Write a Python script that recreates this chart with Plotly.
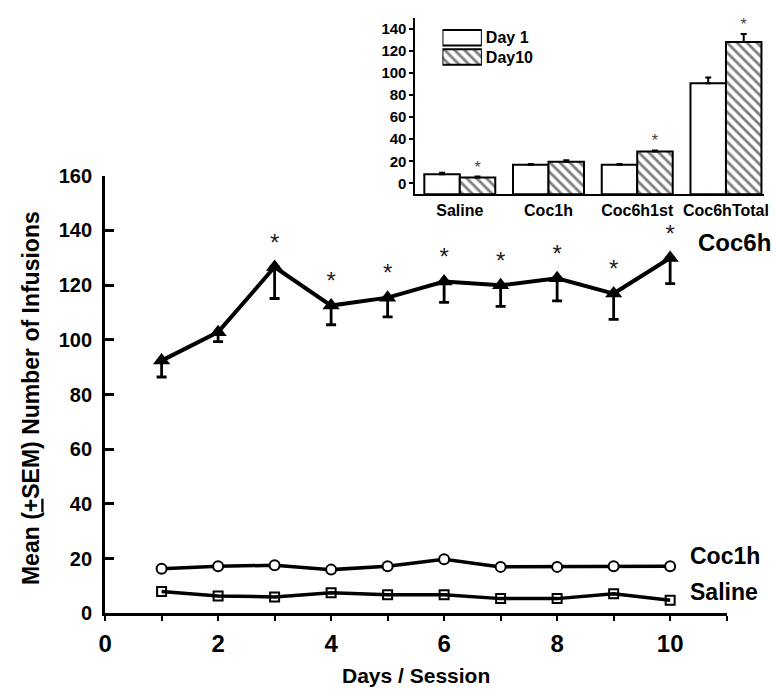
import plotly.graph_objects as go

# ---------------- data ----------------
days = [1, 2, 3, 4, 5, 6, 7, 8, 9, 10]
coc6h = [92.4, 102.8, 126.6, 112.5, 115.4, 121.3, 119.9, 122.5, 116.9, 129.9]
coc6h_sem = [6.0, 3.5, 11.5, 7.0, 7.0, 7.6, 7.7, 8.3, 9.4, 9.4]
coc6h_sig = ["", "", "*", "*", "*", "*", "*", "*", "*", "*"]
coc1h = [16.3, 17.2, 17.6, 16.0, 17.2, 19.8, 17.0, 17.0, 17.2, 17.2]
saline = [8.0, 6.4, 6.0, 7.5, 6.8, 6.8, 5.4, 5.4, 7.2, 4.8]

x_ticks = [0, 1, 2, 3, 4, 5, 6, 7, 8, 9, 10, 11]
x_ticktext = ["0", "", "2", "", "4", "", "6", "", "8", "", "10", ""]
y_ticks = [0, 20, 40, 60, 80, 100, 120, 140, 160]

groups = ["Saline", "Coc1h", "Coc6h1st", "Coc6hTotal"]
group_pos = [0, 1, 2, 3]
day1 = [8.3, 16.8, 16.8, 90.8]
day1_sem = [1.2, 0.8, 0.8, 5.3]
day10 = [5.3, 19.5, 28.9, 128.2]
day10_sem = [0.8, 1.5, 1.0, 7.4]
day10_sig = ["*", "", "*", "*"]
inset_ticks = [0, 20, 40, 60, 80, 100, 120, 140]
INSET_MIN = -10
legend_names = ["Day 1", "Day10"]

FONT = "Arial, Liberation Sans, sans-serif"
NARROW = "Liberation Sans Narrow, Arial Narrow, Liberation Sans, sans-serif"
W, H = 776, 698

fig = go.Figure()

# ---------------- main chart ----------------
fig.add_trace(go.Scatter(
    x=days, y=saline, mode="lines+markers",
    line=dict(color="black", width=3.5),
    marker=dict(symbol="square-open", size=9, color="black", line=dict(width=2)),
    xaxis="x", yaxis="y", showlegend=False))
fig.add_trace(go.Scatter(
    x=days, y=coc1h, mode="lines+markers",
    line=dict(color="black", width=3.5),
    marker=dict(symbol="circle", size=10, color="white", line=dict(width=2, color="black")),
    xaxis="x", yaxis="y", showlegend=False))
fig.add_trace(go.Scatter(
    x=days, y=coc6h, mode="lines+markers+text",
    text=coc6h_sig, textposition="top center",
    textfont=dict(family=FONT, size=24, color="#222"),
    line=dict(color="black", width=4),
    marker=dict(symbol="triangle-up", size=15, color="black"),
    error_y=dict(type="data", symmetric=False, array=[0] * len(days),
                 arrayminus=coc6h_sem, color="black", thickness=2.8, width=5),
    xaxis="x", yaxis="y", showlegend=False))

# ---------------- inset bar chart ----------------
fig.add_trace(go.Bar(
    x=group_pos, y=[v - INSET_MIN for v in day1], base=INSET_MIN,
    marker=dict(color="white", line=dict(color="black", width=2)),
    error_y=dict(type="data", symmetric=False, array=day1_sem, arrayminus=[0] * 4,
                 color="black", thickness=2, width=3),
    xaxis="x2", yaxis="y2", showlegend=False, name="Day 1"))
fig.add_trace(go.Bar(
    x=group_pos, y=[v - INSET_MIN for v in day10], base=INSET_MIN,
    marker=dict(color="white", line=dict(color="black", width=2),
                pattern=dict(shape="\\", fgcolor="black", bgcolor="white", size=7, solidity=0.4)),
    error_y=dict(type="data", symmetric=False, array=day10_sem, arrayminus=[0] * 4,
                 color="black", thickness=2, width=3),
    xaxis="x2", yaxis="y2", showlegend=False, name="Day10"))
fig.add_trace(go.Scatter(
    x=[p + 0.2 for p in group_pos], y=[a + b for a, b in zip(day10, day10_sem)],
    mode="text", text=day10_sig, textposition="top center",
    textfont=dict(family=FONT, size=16, color="#444"),
    xaxis="x2", yaxis="y2", showlegend=False))

# legend swatches for the inset
fig.add_trace(go.Bar(
    y=legend_names, x=[1, 1], orientation="h",
    marker=dict(color="white", line=dict(color="black", width=2),
                pattern=dict(shape=["", "\\"], fgcolor="black", bgcolor="white", size=7, solidity=0.4)),
    xaxis="x3", yaxis="y3", showlegend=False))

bold = dict(family=FONT, color="black", weight="bold")
nbold = dict(family=NARROW, color="black", weight="bold")

fig.update_layout(
    width=W, height=H,
    margin=dict(l=0, r=0, t=0, b=0),
    paper_bgcolor="white", plot_bgcolor="rgba(0,0,0,0)",
    barmode="group", bargap=0.2, bargroupgap=0,
    font=dict(family=FONT, color="black"),
    xaxis=dict(domain=[99.5 / W, 730 / W], range=[0, 11], tickvals=x_ticks, ticktext=x_ticktext,
               ticks="outside", ticklen=5, tickwidth=2, tickcolor="black",
               showline=True, linewidth=3, linecolor="black", showgrid=False, zeroline=False,
               tickfont=dict(size=24, **nbold), ticklabelstandoff=2, anchor="y"),
    yaxis=dict(domain=[(H - 622) / H, (H - 170) / H], range=[0, 160], tickvals=y_ticks,
               ticks="inside", ticklen=9, tickwidth=2.5, tickcolor="black",
               showline=True, linewidth=3, linecolor="black", showgrid=False, zeroline=False,
               tickfont=dict(size=20, **bold), ticklabelstandoff=6, anchor="x"),
    xaxis2=dict(domain=[414.3 / W, 768 / W], range=[-0.5, 3.43], tickvals=group_pos, ticktext=groups,
                ticks="", showline=True, linewidth=2, linecolor="black", showgrid=False,
                zeroline=False, tickfont=dict(size=16, **bold), anchor="y2"),
    yaxis2=dict(domain=[(H - 189.3) / H, (H - 7.3) / H], range=[INSET_MIN, 150], tickvals=inset_ticks,
                ticks="outside", ticklen=4, tickwidth=2, tickcolor="black",
                showline=True, linewidth=2, linecolor="black", showgrid=False, zeroline=False,
                tickfont=dict(size=15, **bold), anchor="x2"),
    xaxis3=dict(domain=[441.7 / W, 481.7 / W], range=[0, 1], visible=False, anchor="y3"),
    yaxis3=dict(domain=[(H - 57.5) / H, (H - 17.5) / H], type="category", autorange="reversed",
                side="right", showline=False, ticks="", showgrid=False, zeroline=False,
                tickfont=dict(size=16, **bold), ticklabelstandoff=3, anchor="x3"),
    annotations=[
        dict(text="Coc6h", x=10.46, y=135.4, xref="x", yref="y", xanchor="left", yanchor="middle",
             showarrow=False, font=dict(size=24, **bold)),
        dict(text="Coc1h", x=10.32, y=21.1, xref="x", yref="y", xanchor="left", yanchor="middle",
             showarrow=False, font=dict(size=23, **bold)),
        dict(text="Saline", x=10.32, y=8.0, xref="x", yref="y", xanchor="left", yanchor="middle",
             showarrow=False, font=dict(size=23, **bold)),
        dict(text="Days / Session", x=415 / W, y=(H - 686) / H, xref="paper", yref="paper",
             xanchor="center", yanchor="middle", showarrow=False, font=dict(size=21, **nbold)),
        dict(text="Mean (<u>+</u>SEM) Number of Infusions", x=25 / W, y=(H - 400) / H,
             xref="paper", yref="paper", xanchor="center", yanchor="middle", textangle=-90,
             showarrow=False, font=dict(size=23, **nbold)),
    ],
)

fig.write_html("out.html", config={"displayModeBar": False},
               post_script="document.body.style.margin='0';document.body.style.overflow='hidden';")
